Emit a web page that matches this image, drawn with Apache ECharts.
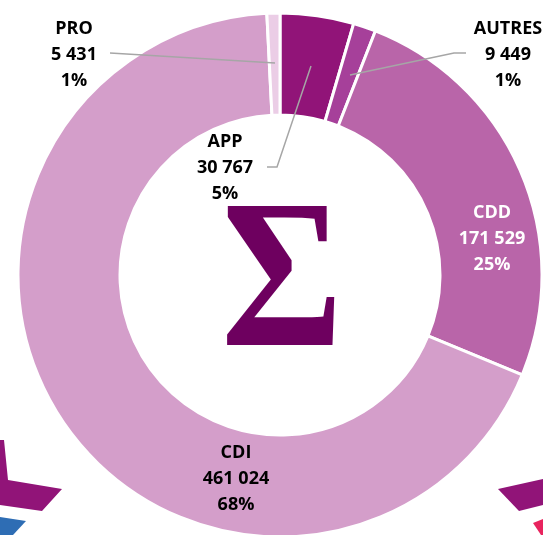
<!DOCTYPE html>
<html>
<head>
<meta charset="utf-8">
<script src="https://cdn.jsdelivr.net/npm/echarts@6/dist/echarts.min.js"></script>
<style>
  html, body { margin: 0; padding: 0; background: #fff; }
  #main { width: 543px; height: 535px; }
</style>
</head>
<body>
<div id="main"></div>
<script>
// données
var categories = ['APP', 'AUTRES', 'CDD', 'CDI', 'PRO'];
var values = [30767, 9449, 171529, 461024, 5431];
var colors = ['#911478', '#A6409A', '#B965A9', '#D49ECA', '#EBCDE6'];

// position des étiquettes (centre) et des traits de rappel
var labelPos = [[225, 168], [508, 55], [492, 239], [236, 479], [74, 55]];
var linePts = [
  [[311, 66], [277, 167], [267, 167]],
  [[350, 75], [454, 53], [466, 53]],
  [[275, 63], [110, 53]]
];

function fmt(n) {
  return String(n).replace(/\B(?=(\d{3})+(?!\d))/g, ' ');
}

var chart = echarts.init(document.getElementById('main'));

var data = categories.map(function (c, i) {
  return {
    name: c,
    value: values[i],
    itemStyle: { color: colors[i] },
    label: { color: c === 'CDD' ? '#fff' : '#000' }
  };
});

var graphics = [
  {
    type: 'text',
    x: 282, y: 290,
    scaleX: 0.88,
    style: {
      text: 'Σ',
      font: 'bold 212px "Liberation Serif"',
      fill: '#6E005F',
      align: 'center',
      verticalAlign: 'middle'
    }
  },
  { type: 'polygon', shape: { points: [[0, 440], [4, 440], [8, 480], [62, 489], [42, 511], [0, 505]] }, style: { fill: '#911478' } },
  { type: 'polygon', shape: { points: [[0, 517], [26, 521], [13, 535], [0, 535]] }, style: { fill: '#2E6DB4' } },
  { type: 'polygon', shape: { points: [[498, 489], [543, 479], [543, 505], [519, 511]] }, style: { fill: '#911478' } },
  { type: 'polygon', shape: { points: [[533, 523], [543, 519], [543, 535], [541, 535]] }, style: { fill: '#E8245E' } }
];
linePts.forEach(function (pts) {
  graphics.push({
    type: 'polyline',
    z: 100,
    shape: { points: pts },
    style: { stroke: '#A6A6A6', lineWidth: 1.5, fill: null }
  });
});

var option = {
  animation: false,
  series: [{
    type: 'pie',
    center: [280, 275],
    radius: [160, 262],
    startAngle: 90,
    clockwise: true,
    avoidLabelOverlap: false,
    itemStyle: { borderColor: '#fff', borderWidth: 3 },
    label: {
      show: true,
      position: 'inside',
      fontFamily: 'Open Sans',
      fontWeight: 'bold',
      fontSize: 18,
      lineHeight: 26,
      align: 'center',
      formatter: function (p) {
        return p.name + '\n' + fmt(p.value) + '\n' + Math.round(p.percent) + '%';
      }
    },
    labelLine: { show: false },
    labelLayout: function (params) {
      var i = params.dataIndex;
      return {
        x: labelPos[i][0],
        y: labelPos[i][1],
        align: 'center',
        verticalAlign: 'middle'
      };
    },
    emphasis: { disabled: true },
    data: data
  }],
  graphic: graphics
};

chart.setOption(option);
</script>
</body>
</html>
